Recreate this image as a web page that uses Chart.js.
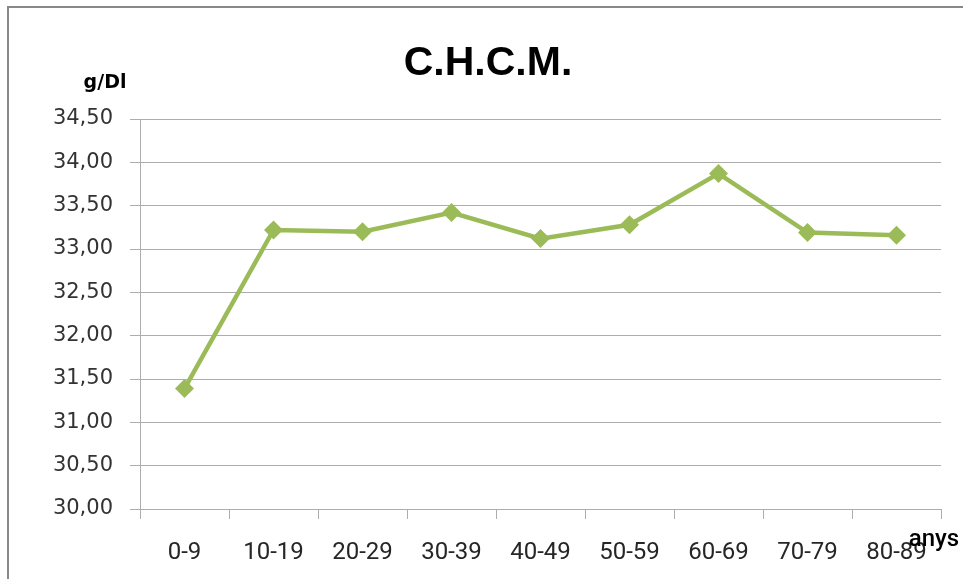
<!DOCTYPE html>
<html>
<head>
<meta charset="utf-8">
<title>C.H.C.M.</title>
<script src="https://cdn.jsdelivr.net/npm/chart.js@4/dist/chart.umd.min.js"></script>
<style>
  html, body { margin: 0; padding: 0; background: #ffffff; }
  canvas { display: block; }
</style>
</head>
<body>
<canvas id="chart" width="963" height="579"></canvas>
<script>
// Age groups (years) and mean corpuscular haemoglobin concentration (g/dl)
const ageGroups = ['0-9', '10-19', '20-29', '30-39', '40-49', '50-59', '60-69', '70-79', '80-89'];
const chcmValues = [31.39, 33.22, 33.20, 33.42, 33.12, 33.28, 33.87, 33.19, 33.16];
const yTickLabels = ['30,00', '30,50', '31,00', '31,50', '32,00', '32,50', '33,00', '33,50', '34,00', '34,50'];

const chartTitle = 'C.H.C.M.';
const yUnitLabel = 'g/Dl';
const xUnitLabel = 'anys';

const lineGreen = '#9bbb59';
const gridGrey = '#adadad';

// Frame, title and axis unit captions painted on the canvas
const decorations = {
  id: 'decorations',
  beforeDraw(chart) {
    const ctx = chart.ctx;
    ctx.save();
    ctx.fillStyle = '#ffffff';
    ctx.fillRect(0, 0, chart.width, chart.height);
    ctx.strokeStyle = '#888888';
    ctx.lineWidth = 2;
    ctx.strokeRect(8, 7, chart.width + 20, chart.height + 20);
    ctx.restore();
  },
  afterDraw(chart) {
    const ctx = chart.ctx;
    ctx.save();
    ctx.fillStyle = '#000000';
    ctx.textAlign = 'center';
    ctx.textBaseline = 'alphabetic';
    ctx.font = 'bold 41px "Liberation Sans", Arial, sans-serif';
    ctx.fillText(chartTitle, 488, 75);
    ctx.font = 'bold 19px "DejaVu Sans", sans-serif';
    ctx.fillText(yUnitLabel, 105, 88);
    ctx.font = '500 24px Roboto, sans-serif';
    ctx.textBaseline = 'middle';
    ctx.fillText(xUnitLabel, 934, 540);
    ctx.restore();
  }
};

new Chart(document.getElementById('chart'), {
  type: 'line',
  data: {
    labels: ageGroups,
    datasets: [{
      data: chcmValues,
      borderColor: lineGreen,
      backgroundColor: lineGreen,
      borderWidth: 4.5,
      pointStyle: 'rectRot',
      pointRadius: 9.5,
      pointBorderWidth: 0,
      pointBackgroundColor: lineGreen,
      tension: 0,
      fill: false
    }]
  },
  options: {
    responsive: false,
    animation: false,
    devicePixelRatio: 1,
    layout: { padding: { top: 119, right: 22, left: 0, bottom: 0 } },
    plugins: {
      legend: { display: false },
      title: { display: false },
      tooltip: { enabled: false }
    },
    scales: {
      x: {
        offset: true,
        grid: {
          offset: true,
          drawOnChartArea: false,
          drawTicks: true,
          tickLength: 10,
          color: gridGrey,
          lineWidth: 1
        },
        border: { color: gridGrey, width: 1 },
        ticks: {
          color: '#262626',
          font: { family: 'Roboto', size: 24 },
          padding: 20,
          maxRotation: 0,
          autoSkip: false
        },
        afterFit(scale) { scale.height = 70; }
      },
      y: {
        min: 30,
        max: 34.5,
        grid: {
          color: gridGrey,
          lineWidth: 1,
          tickLength: 10
        },
        border: { color: gridGrey, width: 1 },
        ticks: {
          stepSize: 0.5,
          color: '#333333',
          font: { family: 'DejaVu Sans', size: 21 },
          padding: 17,
          callback: (value, index) => yTickLabels[index]
        },
        afterFit(scale) { scale.width = 140; }
      }
    }
  },
  plugins: [decorations]
});
</script>
</body>
</html>
